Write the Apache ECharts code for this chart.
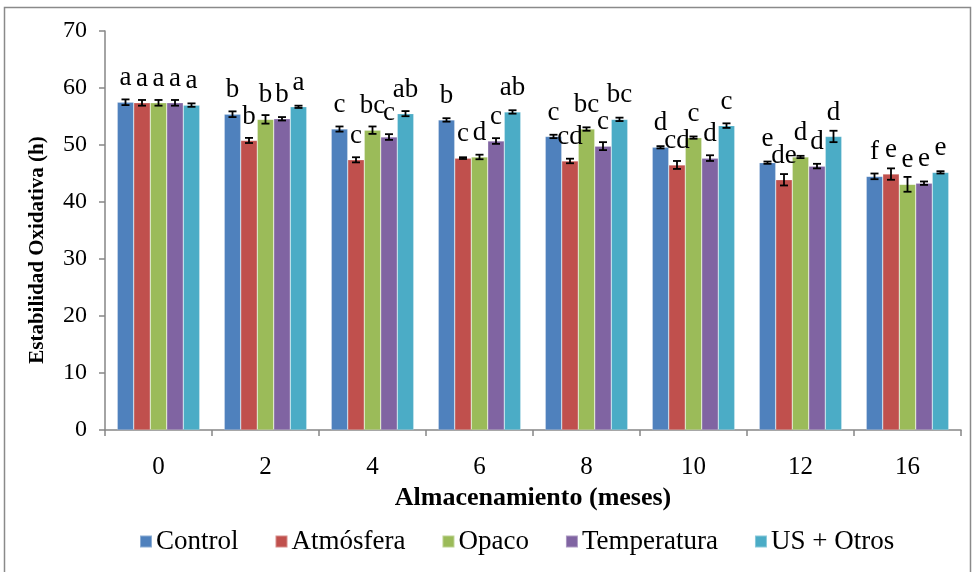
<!DOCTYPE html>
<html>
<head>
<meta charset="utf-8">
<script src="https://cdn.jsdelivr.net/npm/echarts@6/dist/echarts.min.js"></script>
<style>
  html, body { margin: 0; padding: 0; background: #ffffff; }
  #chart { width: 979px; height: 572px; }
</style>
</head>
<body>
<div id="chart"></div>
<script>
// Storage time (months)
const months = ['0', '2', '4', '6', '8', '10', '12', '16'];

const seriesNames = ['Control', 'Atmósfera', 'Opaco', 'Temperatura', 'US + Otros'];
const seriesColors = ['#4F81BD', '#C0504D', '#9BBB59', '#8064A2', '#4BACC6'];

// Oxidative stability (h), mean per treatment
const control     = [57.5, 55.4, 52.8, 54.4, 51.5, 49.6, 46.9, 44.5];
const atmosfera   = [57.4, 50.8, 47.4, 47.7, 47.2, 46.5, 43.9, 44.9];
const opaco       = [57.4, 54.5, 52.6, 47.9, 52.8, 51.3, 47.9, 43.1];
const temperatura = [57.4, 54.6, 51.4, 50.7, 49.8, 47.7, 46.3, 43.3];
const usOtros     = [57.0, 56.7, 55.5, 55.8, 54.5, 53.4, 51.5, 45.2];

// Standard deviation per treatment
const controlErr     = [0.5, 0.5, 0.45, 0.3, 0.3, 0.2, 0.2, 0.5];
const atmosferaErr   = [0.5, 0.45, 0.45, 0.15, 0.4, 0.7, 1.0, 1.0];
const opacoErr       = [0.5, 0.75, 0.65, 0.4, 0.3, 0.2, 0.2, 1.3];
const temperaturaErr = [0.5, 0.3, 0.5, 0.5, 0.7, 0.5, 0.4, 0.3];
const usOtrosErr     = [0.3, 0.2, 0.45, 0.3, 0.3, 0.4, 1.0, 0.2];

// Significance letters
const controlLetters     = ['a', 'b', 'c', 'b', 'c', 'd', 'e', 'f'];
const atmosferaLetters   = ['a', 'b', 'c', 'c', 'cd', 'cd', 'de', 'e'];
const opacoLetters       = ['a', 'b', 'bc', 'd', 'bc', 'c', 'd', 'e'];
const temperaturaLetters = ['a', 'b', 'c', 'c', 'c', 'd', 'd', 'e'];
const usOtrosLetters     = ['a', 'a', 'ab', 'ab', 'bc', 'c', 'd', 'e'];

// Y axis ticks
const yMin = 0, yMax = 70, yStep = 10;

const values  = [control, atmosfera, opaco, temperatura, usOtros];
const errors  = [controlErr, atmosferaErr, opacoErr, temperaturaErr, usOtrosErr];
const letters = [controlLetters, atmosferaLetters, opacoLetters, temperaturaLetters, usOtrosLetters];

const FONT = '"Liberation Serif", "Times New Roman", serif';
const BAR_W = 16.5;
const AXIS_COLOR = '#868686';

const chart = echarts.init(document.getElementById('chart'));

const barSeries = seriesNames.map((name, s) => ({
  name: name,
  type: 'bar',
  barWidth: BAR_W,
  barGap: '0%',
  data: values[s],
  itemStyle: { color: seriesColors[s], borderColor: 'rgba(255,255,255,0.35)', borderWidth: 0.6 },
  label: {
    show: true,
    position: 'top',
    distance: 11,
    formatter: p => letters[s][p.dataIndex],
    fontFamily: FONT,
    fontSize: 27,
    color: '#000',
    lineHeight: 26
  },
  z: 2
}));

const errSeries = seriesNames.map((name, s) => ({
  name: name,
  type: 'custom',
  data: values[s].map((v, i) => [i, v, errors[s][i]]),
  renderItem: function (params, api) {
    const cat = api.value(0);
    const v = api.value(1);
    const e = api.value(2);
    const hi = api.coord([cat, v + e]);
    const lo = api.coord([cat, v - e]);
    const x = hi[0] + (s - 2) * BAR_W;
    const cap = 4;
    const style = { stroke: '#000', lineWidth: 1.8, fill: null };
    return {
      type: 'group',
      children: [
        { type: 'line', shape: { x1: x, y1: hi[1], x2: x, y2: lo[1] }, style: style },
        { type: 'line', shape: { x1: x - cap, y1: hi[1], x2: x + cap, y2: hi[1] }, style: style },
        { type: 'line', shape: { x1: x - cap, y1: lo[1], x2: x + cap, y2: lo[1] }, style: style }
      ]
    };
  },
  z: 5,
  silent: true
}));

chart.setOption({
  animation: false,
  backgroundColor: '#ffffff',
  textStyle: { fontFamily: FONT },
  grid: { left: 105, right: 18, top: 31, bottom: 142, containLabel: false },
  graphic: [{
    type: 'rect',
    shape: { x: 4.5, y: 7.5, width: 966, height: 580 },
    style: { fill: null, stroke: '#8a8a8a', lineWidth: 1.5 },
    silent: true
  }, {
    // vertical axis title
    type: 'text',
    x: 38,
    y: 250,
    rotation: Math.PI / 2,
    style: {
      text: 'Estabilidad Oxidativa (h)',
      fontFamily: FONT,
      fontSize: 21,
      fontWeight: 'bold',
      fill: '#000',
      align: 'center',
      verticalAlign: 'middle'
    },
    silent: true
  }],
  legend: {
    data: seriesNames,
    top: 523,
    left: 134,
    itemWidth: 12,
    itemHeight: 12,
    itemGap: 36,
    icon: 'rect',
    textStyle: { fontFamily: FONT, fontSize: 27, color: '#000', padding: [0, 0, 0, -1] }
  },
  xAxis: {
    type: 'category',
    data: months,
    name: 'Almacenamiento (meses)',
    nameLocation: 'middle',
    nameGap: 51,
    nameTextStyle: { fontFamily: FONT, fontSize: 26, fontWeight: 'bold', color: '#000' },
    axisLine: { lineStyle: { color: AXIS_COLOR, width: 1.5 } },
    axisTick: { show: true, length: 6, lineStyle: { color: AXIS_COLOR, width: 1.5 } },
    axisLabel: { fontFamily: FONT, fontSize: 25, color: '#000', margin: 25 }
  },
  yAxis: {
    type: 'value',
    min: yMin,
    max: yMax,
    interval: yStep,
    axisLine: { show: true, lineStyle: { color: AXIS_COLOR, width: 1.5 } },
    axisTick: { show: true, length: 6, lineStyle: { color: AXIS_COLOR, width: 1.5 } },
    splitLine: { show: false },
    axisLabel: { fontFamily: FONT, fontSize: 24, color: '#000', margin: 18 }
  },
  series: barSeries.concat(errSeries)
});
</script>
</body>
</html>
